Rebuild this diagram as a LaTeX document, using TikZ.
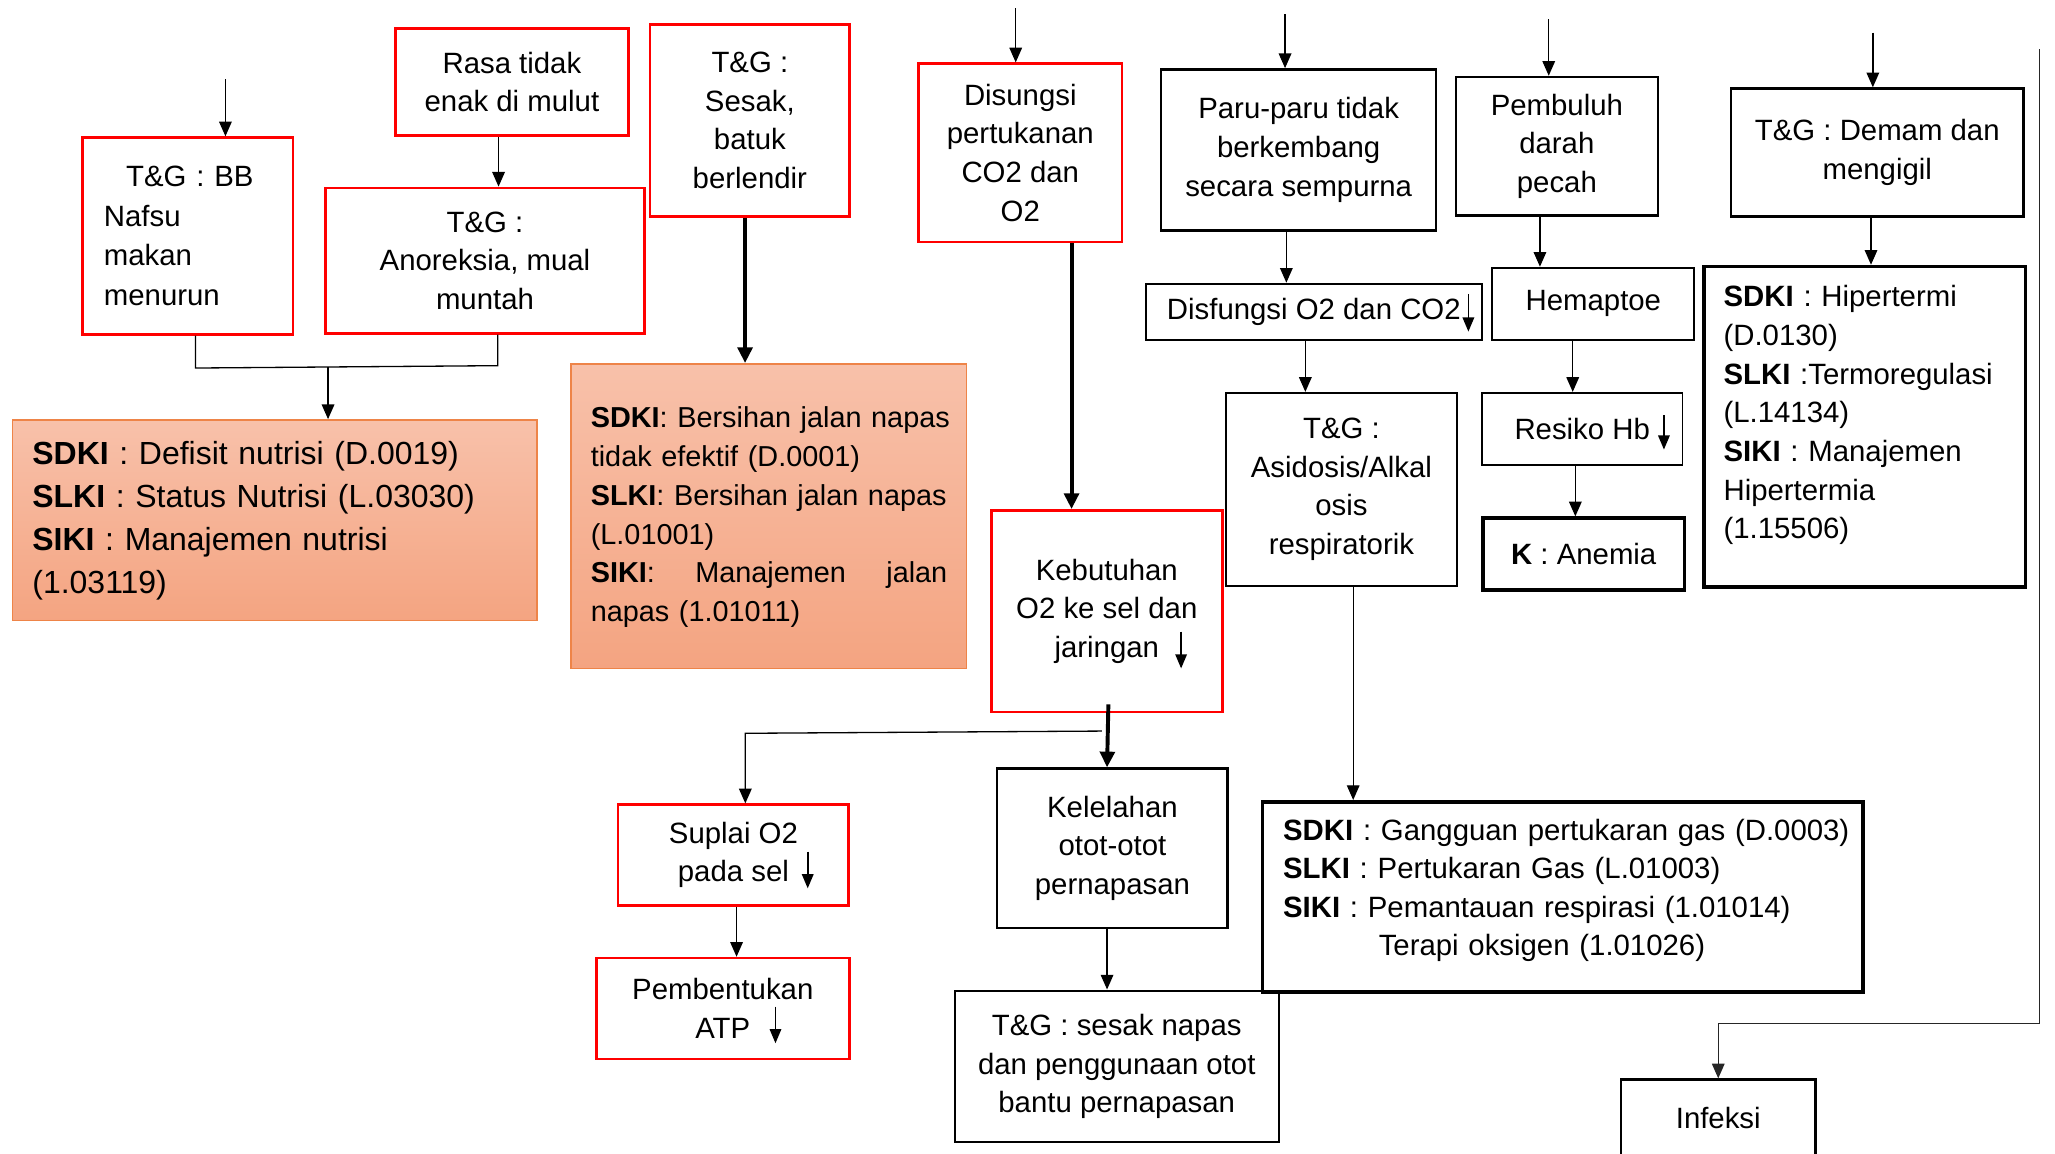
\documentclass[tikz,border=0pt]{standalone}
\usepackage{fontspec}
\setmainfont{Liberation Sans}
\usetikzlibrary{arrows.meta,calc}

\definecolor{boxred}{RGB}{255,0,0}
\definecolor{peachtop}{RGB}{248,193,170}
\definecolor{peachbot}{RGB}{244,164,129}
\definecolor{peachline}{RGB}{238,132,72}

\tikzset{
  basefont/.style={font=\fontsize{11.2}{14.75}\selectfont},
  box/.style={rectangle, inner sep=0pt, align=center, anchor=north west, basefont},
  redbox/.style={box, draw=boxred, line width=1pt},
  blackbox/.style={box, draw=black, line width=0.9pt},
  thinbox/.style={box, draw=black, line width=0.75pt},
  heavybox/.style={box, draw=black, line width=1.4pt},
  peachbox/.style={rectangle, inner sep=0pt, anchor=north west, draw=peachline,
    line width=0.6pt, top color=peachtop, bottom color=peachbot},
  txt/.style={inner sep=0pt, align=left, anchor=base west, basefont},
  link/.style={line width=0.5pt, -{Triangle[length=5.6pt,width=4.8pt]}},
  boldlink/.style={line width=1.5pt, -{Triangle[length=6pt,width=5.6pt]}},
  plain/.style={line width=0.5pt},
  dropmark/.style={line width=0.6pt, -{Triangle[length=5.4pt,width=4.4pt]}},
}

\begin{document}
\begin{tikzpicture}[x=0.5pt,y=-0.5pt]
\useasboundingbox (0,0) rectangle (1568,880);

% ---------- nutrition branch ----------
\node[redbox, align=left, text width=64pt, inner xsep=8.15pt,
      minimum height=75pt, font=\fontsize{11.2}{15.1}\selectfont]
  (bb) at (62,104) {\hspace*{8.5pt}T\&G : BB\\ Nafsu\\ makan\\ menurun};
\node[redbox, minimum width=88.9pt, minimum height=40.95pt]
  (rasa) at (300.7,20.6) {Rasa tidak\\ enak di mulut};
\node[redbox, minimum width=121.75pt, minimum height=55.45pt]
  (anor) at (247.3,142.4) {T\&G :\\ Anoreksia, mual\\ muntah};
\node[peachbox, minimum width=200.1pt, minimum height=76.6pt]
  (nut) at (8.8,319.8) {};
\node[txt, text width=185pt, font=\fontsize{12.2}{16.35}\selectfont]
  (nuttxt) at (24.3,354.5)
  {\textbf{SDKI} : Defisit nutrisi (D.0019)\\
   \textbf{SLKI} : Status Nutrisi (L.03030)\\
   \textbf{SIKI} : Manajemen nutrisi\\
   (1.03119)};

% ---------- airway branch ----------
\node[redbox, minimum width=76.15pt, minimum height=73.1pt]
  (sesak) at (495,17.8) {T\&G :\\ Sesak,\\ batuk\\ berlendir};
\node[peachbox, minimum width=150.85pt, minimum height=116.2pt]
  (jalan) at (435,277) {};
\node[txt, text width=139pt, font=\fontsize{11}{14.85}\selectfont]
  (jalantxt) at (450.4,326)
  {\textbf{SDKI}: Bersihan jalan napas\\
   tidak efektif (D.0001)\\
   \textbf{SLKI}: Bersihan jalan napas\\
   (L.01001)\\
   \makebox[136pt][s]{\textbf{SIKI}:\hfill Manajemen\hfill jalan}\\
   napas (1.01011)};

% ---------- oxygen demand branch ----------
\node[redbox, minimum width=77.5pt, minimum height=68pt]
  (disu) at (700,47.6) {Disungsi\\ pertukanan\\ CO2 dan\\ O2};
\node[redbox, minimum width=88.1pt, minimum height=76.95pt]
  (keb) at (755.4,388.4) {Kebutuhan\\ O2 ke sel dan\\ jaringan};
\node[redbox, minimum width=88pt, minimum height=38.4pt]
  (sup) at (470.6,613) {Suplai O2\\ pada sel};
\node[redbox, minimum width=96.5pt, minimum height=38.5pt]
  (atp) at (454,730) {Pembentukan\\ ATP};
\node[blackbox, minimum width=87.9pt, minimum height=60.75pt]
  (kel) at (760,585.5) {Kelelahan\\ otot-otot\\ pernapasan};
\node[blackbox, minimum width=123.6pt, minimum height=57.8pt]
  (snap) at (727.6,755) {T\&G : sesak napas\\ dan penggunaan otot\\ bantu pernapasan};

% ---------- gas exchange branch ----------
\node[blackbox, minimum width=105pt, minimum height=61.5pt]
  (paru) at (885,52) {Paru-paru tidak\\ berkembang\\ secara sempurna};
\node[thinbox, minimum width=128.1pt, minimum height=21.5pt]
  (disf) at (873.6,215.7) {Disfungsi O2 dan CO2};
\node[blackbox, minimum width=87.95pt, minimum height=73.5pt]
  (asid) at (934.7,299) {T\&G :\\ Asidosis/Alkal\\ osis\\ respiratorik};
\node[heavybox, minimum width=229pt, minimum height=72.5pt]
  (gas) at (962,610.4) {};
\node[txt, text width=220pt, font=\fontsize{11.2}{14.6}\selectfont]
  (gastxt) at (978.6,641.3)
  {\textbf{SDKI} : Gangguan pertukaran gas (D.0003)\\
   \textbf{SLKI} : Pertukaran Gas (L.01003)\\
   \textbf{SIKI} : Pemantauan respirasi (1.01014)\\
   \hspace*{36.5pt}Terapi oksigen (1.01026)};

% ---------- bleeding branch ----------
\node[blackbox, minimum width=77pt, minimum height=52.85pt]
  (pemb) at (1110,57.8) {Pembuluh\\ darah\\ pecah};
\node[thinbox, minimum width=77pt, minimum height=27.45pt]
  (hem) at (1138,203.5) {Hemaptoe};
\node[thinbox, minimum width=76.5pt, minimum height=27.5pt]
  (res) at (1130,299) {Resiko Hb};
\node[heavybox, minimum width=77pt, minimum height=27.5pt]
  (anem) at (1130,394) {\textbf{K} : Anemia};

% ---------- fever branch ----------
\node[blackbox, minimum width=111.5pt, minimum height=48.9pt]
  (dem) at (1320,66.6) {T\&G : Demam dan\\ mengigil};
\node[heavybox, minimum width=122.65pt, minimum height=122.35pt]
  (hip) at (1298.7,202) {};
\node[txt, text width=112pt]
  (hiptxt) at (1314.7,234)
  {\textbf{SDKI} : Hipertermi\\
   (D.0130)\\
   \textbf{SLKI} :Termoregulasi\\
   (L.14134)\\
   \textbf{SIKI} : Manajemen\\
   Hipertermia\\
   (1.15506)};
\node[blackbox, minimum width=74.15pt, minimum height=29.2pt]
  (inf) at (1236,822.8) {Infeksi};

% ---------- incoming arrows ----------
\coordinate (bbin) at (172,60.3);
\coordinate (disin) at (775,6.4);
\coordinate (paruin) at (980.5,11);
\coordinate (pembin) at (1181.7,14.6);
\coordinate (demin) at (1429,24.8);
\draw[link] (bbin) -- (bbin |- bb.north);
\draw[link] (disin) -- (disin |- disu.north);
\draw[link] (paruin) -- (paruin |- paru.north);
\draw[link] (pembin) -- (pembin |- pemb.north);
\draw[link] (demin) -- (demin |- dem.north);

% ---------- nutrition connectors ----------
\draw[link] (380.4,0 |- rasa.south) -- (380.4,0 |- anor.north);
\coordinate (nj) at (250.3,280);
\draw[plain] (149.2,0 |- bb.south) -- (149.2,280.8) -- (379.8,279)
  -- (379.8,0 |- anor.south);
\draw[link] (nj) -- (nj |- nut.north);

% ---------- airway / oxygen connectors ----------
\draw[boldlink] (568.5,0 |- sesak.south) -- (568.5,0 |- jalan.north);
\draw[boldlink] (817.6,0 |- disu.south) -- (817.6,0 |- keb.north);
\draw[boldlink] ($(keb.south)+(1.2,-6.9)$) -- (844.7,0 |- kel.north);
\coordinate (split) at (840.8,557.8);
\coordinate (supjoin) at (568.7,559.5);
\draw[link] (split) -- (supjoin) -- (supjoin |- sup.north);
\draw[link] (562,0 |- sup.south) -- (562,0 |- atp.north);
\draw[link] (844.7,0 |- kel.south) -- (844.7,0 |- snap.north);

% ---------- gas exchange connectors ----------
\draw[link] (981.5,0 |- paru.south) -- (981.5,0 |- disf.north);
\draw[link] (996,0 |- disf.south) -- (996,0 |- asid.north);
\draw[link] (1032.5,0 |- asid.south) -- (1032.5,0 |- gas.north);

% ---------- bleeding / fever connectors ----------
\draw[link] (1175,0 |- pemb.south) -- (1175,0 |- hem.north);
\draw[link] (1200,0 |- hem.south) -- (1200,0 |- res.north);
\draw[link] (1202,0 |- res.south) -- (1202,0 |- anem.north);
\draw[link] (1427.6,0 |- dem.south) -- (1427.6,0 |- hip.north);
\coordinate (rtop) at (1556,37.6);
\coordinate (rbend) at (1556,780.8);
\draw[link, draw=black!85] (rtop) -- (rbend) -| (inf.north);

% ---------- "decrease" marks beside the text ----------
\draw[dropmark] (901.2,482) -- (901.2,510);
\draw[dropmark] (616.3,649.8) -- (616.3,677.8);
\draw[dropmark] (591.7,768) -- (591.7,796);
\draw[dropmark] (1120.4,224.3) -- (1120.4,253);
\draw[dropmark] (1269.6,316.8) -- (1269.6,343);
\end{tikzpicture}
\end{document}
